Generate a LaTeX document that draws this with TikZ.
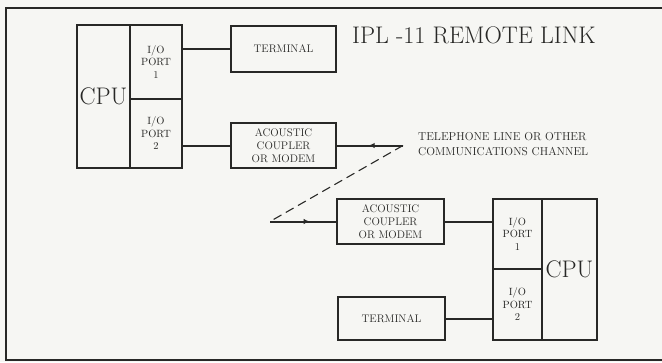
\documentclass[tikz,border=0pt]{standalone}
\usetikzlibrary{arrows.meta,decorations.markings}
\definecolor{paper}{RGB}{246,246,243}
\definecolor{ink}{RGB}{40,40,38}
\tikzset{
  blk/.style={draw=ink, line width=1.8pt, rectangle, inner sep=0pt, align=center, text=ink},
  lbl/.style={font=\fontsize{11}{13}\selectfont},
  plbl/.style={font=\fontsize{10.5}{12.5}\selectfont},
  big/.style={font=\fontsize{24}{26}\selectfont},
  wire/.style={draw=ink, line width=2pt},
  midarrow/.style={postaction={decorate}, decoration={markings, mark=at position #1 with {\arrow{Latex[length=6pt,width=5.5pt]}}}}
}
\begin{document}
\begin{tikzpicture}[x=1pt,y=-1pt]
\fill[paper] (0,0) rectangle (662,362);
\useasboundingbox (0,0) rectangle (662,362);
\draw[ink, line width=2.6pt] (664,8) -- (6,8) -- (6,360) -- (664,360);
% upper system
\node[blk, big, minimum width=53, minimum height=143] (cpuA) at (103.5,96.5) {CPU};
\node[blk, plbl, minimum width=52, minimum height=74] (p1A) at (156,62) {I/O\\PORT\\1};
\node[blk, plbl, minimum width=52, minimum height=69] (p2A) at (156,133.5) {I/O\\PORT\\2};
\node[blk, lbl, minimum width=105, minimum height=46] (termA) at (283.5,49) {TERMINAL};
\node[blk, lbl, minimum width=105, minimum height=45] (modA) at (283.5,145.5) {ACOUSTIC\\COUPLER\\OR MODEM};
% lower system
\node[blk, lbl, minimum width=107, minimum height=45] (modB) at (390.5,221.5) {ACOUSTIC\\COUPLER\\OR MODEM};
\node[blk, lbl, minimum width=107, minimum height=43] (termB) at (391.5,318.5) {TERMINAL};
\node[blk, plbl, minimum width=49, minimum height=70] (p1B) at (517.5,234) {I/O\\PORT\\1};
\node[blk, plbl, minimum width=49, minimum height=71] (p2B) at (517.5,304.5) {I/O\\PORT\\2};
\node[blk, big, minimum width=55, minimum height=141] (cpuB) at (569.5,269.5) {CPU};
% title and channel label
\node[anchor=west, text=ink, font=\fontsize{24}{26}\selectfont, inner sep=0pt] (title) at (352,35) {IPL -11 REMOTE LINK};
\node[anchor=west, text=ink, align=left, font=\fontsize{11.5}{15}\selectfont, inner sep=0pt] (chan) at (418,144.5) {TELEPHONE LINE OR OTHER\\COMMUNICATIONS CHANNEL};
% connections
\draw[wire] (termA.west) -- (termA.west -| p1A.east);
\draw[wire] (modA.west) -- (modA.west -| p2A.east);
\draw[wire] (modB.east) -- (modB.east -| p1B.west);
\draw[wire] (termB.east) -- (termB.east -| p2B.west);
\coordinate (tA) at (403,145.5);
\coordinate (tB) at (270,221.5);
\draw[wire, midarrow=0.52] (tA) -- (modA.east);
\draw[wire, midarrow=0.6] (tB) -- (modB.west);
\draw[ink, line width=1.1pt, dash pattern=on 9pt off 5pt] (tA) -- (tB);
\end{tikzpicture}
\end{document}
